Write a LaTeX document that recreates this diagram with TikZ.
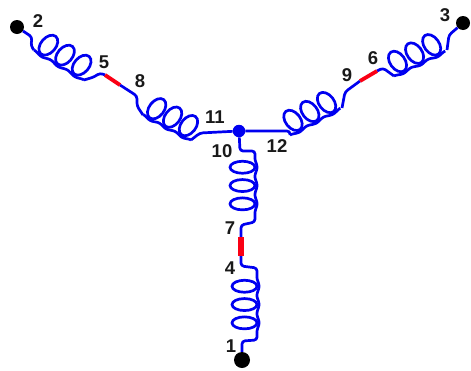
\documentclass[tikz,border=0pt]{standalone}
\usepackage{fontspec}
\setmainfont{Liberation Sans}
\usetikzlibrary{calc}
\definecolor{wireblue}{RGB}{0,0,240}
\definecolor{fusered}{RGB}{250,0,20}
\tikzset{
  wire/.style={draw=wireblue,line width=2.7pt,line join=round,rounded corners=3pt},
  fuse/.style={draw=fusered,line width=3.8pt},
  terminal/.style={circle,fill=black,inner sep=0pt,minimum size=#1},
  junction/.style={circle,fill=wireblue,inner sep=0pt,minimum size=#1},
  lab/.style={font=\bfseries\fontsize{18.5}{19}\selectfont,inner sep=0pt,text=black!90}
}
% #1 start coordinate, #2 angle, #3 pitch, #4 oval half-width, #5 oval length (signed), #6 lean
\newcommand{\spring}[6]{%
  \begin{scope}[shift={(#1)},rotate=#2]
    \draw[draw=wireblue,line width=2.7pt,line join=round]
      plot[domain=0:3,samples=90,smooth] ({(#3*\x)*1pt},{(-0.08*#5*(1-cos(360*\x))/2)*1pt});
    \foreach \k in {0.5,1.5,2.5}{
      \draw[draw=wireblue,line width=2.7pt,shift={({(#3*\k)*1pt},{(0.5*#5)*1pt})},rotate=#6]
        (0pt,0pt) ellipse [x radius=#4 pt,y radius={abs(0.5*#5)*1pt}];
    }
  \end{scope}}
\begin{document}
\begin{tikzpicture}[x=1pt,y=-1pt]
\useasboundingbox[fill=white] (0,0) rectangle (471,370);
% junction and terminals
\node[junction=12.5pt] (hub) at (239,131) {};
\node[terminal=16pt] (t1) at (242,360) {};
\node[terminal=14pt] (t2) at (17,27) {};
\node[terminal=14pt] (t3) at (463,23) {};
% coil end points
\coordinate (a1) at (34,50);  \coordinate (a2) at (84,80);
\coordinate (b1) at (143,115);\coordinate (b2) at (191,140);
\coordinate (c1) at (342,108);\coordinate (c2) at (290,135);
\coordinate (d1) at (447,50); \coordinate (d2) at (394,76);
\coordinate (e1) at (255,158);\coordinate (e2) at (255,213);
\coordinate (f1) at (257,277);\coordinate (f2) at (257,332);
% fuses
\coordinate (r5) at (105,75); \coordinate (r8) at (120,85);
\coordinate (r6) at (377,71); \coordinate (r9) at (360,81);
\coordinate (r7) at (241,237);\coordinate (r4) at (241,256);
% coils
\spring{a2}{149}{19.4}{7.5}{-23}{-10}
\spring{b2}{152}{18.0}{7.5}{-23}{-10}
\spring{c2}{28}{19.0}{7.5}{23}{10}
\spring{d2}{26}{19.0}{7.5}{23}{10}
\spring{e2}{90}{18.3}{6}{25}{0}
\spring{f2}{90}{18.3}{6}{25}{0}
% leads
\draw[wire] (t2) -- (32,37) -- (31,46) -- (a1);
\draw[wire] (a2) -- (94,77) -- (100,73) -- (r5);
\draw[wire] (r8) -- (137,96) -- (137,106) -- (b1);
\draw[wire] (b2) -- (200,133) -- (hub);
\draw[wire] (hub) -- (c2 |- hub) -- (c2);
\draw[wire] (c1) -- (345,92) -- (r9);
\draw[wire] (r6) -- (383,68) -- (d2);
\draw[wire] (d1) -- (449,35) -- (t3);
\draw[wire] (hub) -- (240,151) -- (255,151) -- (e1);
\draw[wire] (e2) -- (255,222) -- (241,225) -- (r7);
\draw[wire] (r4) -- (241,266) -- (257,268) -- (f1);
\draw[wire] (f2) -- (257,340) -- (242,341) -- (t1);
% red links
\draw[fuse] (r5) -- (r8);
\draw[fuse] (r9) -- (r6);
\draw[fuse,line width=5.5pt] (r7) -- (r4);
% labels
\node[lab] (n1) at (231,346) {1};
\node[lab] (n2) at (38,21) {2};
\node[lab] (n3) at (445,15) {3};
\node[lab] (n4) at (230,268) {4};
\node[lab] (n5) at (104,62) {5};
\node[lab] (n6) at (373,58) {6};
\node[lab] (n7) at (230,228) {7};
\node[lab] (n8) at (140,81) {8};
\node[lab] (n9) at (347,75) {9};
\node[lab] (n10) at (222,151) {10};
\node[lab] (n11) at (215,117) {11};
\node[lab] (n12) at (277,146) {12};
\end{tikzpicture}
\end{document}
